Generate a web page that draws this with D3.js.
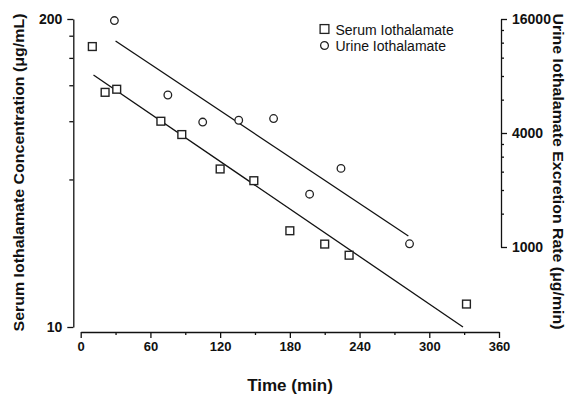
<!DOCTYPE html>
<html>
<head>
<meta charset="utf-8">
<script src="https://cdn.jsdelivr.net/npm/d3@7"></script>
<style>
    body { margin: 0; background: #fff; }
    text { font-family: "Liberation Sans", Arial, sans-serif; fill: #111; }
</style>
</head>
<body>
<div id="chart"></div>
<script>
// serum samples (left axis, ug/mL)
const serumTime = [10, 21, 31, 69, 87, 120, 149, 180, 210, 231, 332];
const serumConc = [153, 98, 101, 74, 65, 46.5, 41.5, 25.5, 22.4, 20.1, 12.5];

// urine collections (right axis, ug/min)
const urineTime = [29, 75, 105, 136, 166, 197, 224, 283];
const urineRate = [15700, 6350, 4570, 4670, 4770, 1900, 2600, 1040];

// regression lines, end points
const serumFitTime = [11, 329];
const serumFitConc = [116, 10];
const urineFitTime = [30, 282];
const urineFitRate = [12240, 1142];

// ticks
const xMajor = [0, 60, 120, 180, 240, 300, 360];
const xMinor = [30, 90, 150, 210, 270, 330];
const leftMajor = [10, 200];
const leftMinor = [42, 74, 105, 137, 170];
const rightMajor = [1000, 4000, 16000];
const rightMinor = [1500, 2000, 2500, 3000, 3500, 6000, 8000, 10000, 12000, 14000];

const width = 567, height = 394;

const svg = d3.select("#chart")
    .append("svg")
    .attr("width", width)
    .attr("height", height);

// scales
const x = d3.scaleLinear().domain([0, 360]).range([80.7, 499]);
const yL = d3.scaleLog().domain([10, 200]).range([327, 19]);
const yR = d3.scaleLog().domain([1000, 16000]).range([247, 19]);

// x axis (drawn slightly below the left axis end)
svg.append("g")
    .attr("transform", "translate(0,332)")
    .call(d3.axisBottom(x).tickValues(xMajor).tickSize(6).tickSizeOuter(0).tickPadding(4))
    .call(g => g.selectAll("text").attr("font-size", "13px").attr("font-weight", "bold"));
svg.append("g")
    .attr("transform", "translate(0,332)")
    .call(d3.axisBottom(x).tickValues(xMinor).tickSize(3).tickFormat(""))
    .call(g => g.select(".domain").remove());

// left axis
svg.append("g")
    .attr("transform", "translate(73.3,0)")
    .call(d3.axisLeft(yL).tickValues(leftMajor).tickSize(6).tickSizeOuter(0)
        .tickFormat(d3.format("d")).tickPadding(5))
    .call(g => g.selectAll("text").attr("font-size", "14px").attr("font-weight", "bold"));
svg.append("g")
    .attr("transform", "translate(73.3,0)")
    .call(d3.axisLeft(yL).tickValues(leftMinor).tickSize(4).tickFormat(""))
    .call(g => g.select(".domain").remove());

// right axis
svg.append("g")
    .attr("transform", "translate(501,0)")
    .call(d3.axisRight(yR).tickValues(rightMajor).tickSize(6).tickSizeOuter(0)
        .tickFormat(d3.format("d")).tickPadding(5))
    .call(g => g.selectAll("text").attr("font-size", "14px").attr("font-weight", "bold"));
svg.append("g")
    .attr("transform", "translate(501,0)")
    .call(d3.axisRight(yR).tickValues(rightMinor).tickSize(3).tickFormat(""))
    .call(g => g.select(".domain").remove());

svg.selectAll(".domain, .tick line")
    .attr("stroke", "#111")
    .attr("stroke-width", 1.3);

// regression lines
const serumLine = d3.line().x(d => x(d[0])).y(d => yL(d[1]));
const urineLine = d3.line().x(d => x(d[0])).y(d => yR(d[1]));

svg.append("path")
    .datum(d3.zip(serumFitTime, serumFitConc))
    .attr("d", serumLine)
    .attr("fill", "none")
    .attr("stroke", "#111")
    .attr("stroke-width", 1.3);

svg.append("path")
    .datum(d3.zip(urineFitTime, urineFitRate))
    .attr("d", urineLine)
    .attr("fill", "none")
    .attr("stroke", "#111")
    .attr("stroke-width", 1.3);

// serum squares
const sq = 7.8;
svg.selectAll("rect.serum")
    .data(d3.zip(serumTime, serumConc))
    .enter()
    .append("rect")
    .attr("class", "serum")
    .attr("x", d => x(d[0]) - sq / 2)
    .attr("y", d => yL(d[1]) - sq / 2)
    .attr("width", sq)
    .attr("height", sq)
    .attr("fill", "white")
    .attr("stroke", "#222")
    .attr("stroke-width", 1.4);

// urine circles
svg.selectAll("circle.urine")
    .data(d3.zip(urineTime, urineRate))
    .enter()
    .append("circle")
    .attr("class", "urine")
    .attr("cx", d => x(d[0]))
    .attr("cy", d => yR(d[1]))
    .attr("r", 3.8)
    .attr("fill", "white")
    .attr("stroke", "#222")
    .attr("stroke-width", 1.3);

// legend
const legend = svg.append("g").attr("transform", "translate(324.5,0)");
legend.append("rect")
    .attr("x", -sq / 2 - 0.5).attr("y", 29 - sq / 2 - 0.5)
    .attr("width", sq + 1).attr("height", sq + 1)
    .attr("fill", "white").attr("stroke", "#222").attr("stroke-width", 1.3);
legend.append("circle")
    .attr("cx", 0).attr("cy", 45.5).attr("r", 3.9)
    .attr("fill", "white").attr("stroke", "#222").attr("stroke-width", 1.3);
legend.append("text")
    .attr("x", 11).attr("y", 35)
    .attr("font-size", "14px")
    .text("Serum Iothalamate");
legend.append("text")
    .attr("x", 11).attr("y", 50.5)
    .attr("font-size", "14px")
    .text("Urine Iothalamate");

// axis titles
svg.append("text")
    .attr("transform", "translate(290,391)")
    .attr("text-anchor", "middle")
    .attr("font-size", "17px")
    .attr("font-weight", "bold")
    .text("Time (min)");

svg.append("text")
    .attr("transform", "translate(23.5,172.5) rotate(-90)")
    .attr("text-anchor", "middle")
    .attr("font-size", "15px")
    .attr("font-weight", "bold")
    .attr("textLength", 318)
    .attr("lengthAdjust", "spacingAndGlyphs")
    .text("Serum Iothalamate Concentration (\u03bcg/mL)");

svg.append("text")
    .attr("transform", "translate(553,171.5) rotate(90)")
    .attr("text-anchor", "middle")
    .attr("font-size", "15px")
    .attr("font-weight", "bold")
    .attr("textLength", 316)
    .attr("lengthAdjust", "spacingAndGlyphs")
    .text("Urine Iothalamate Excretion Rate (\u03bcg/min)");
</script>
</body>
</html>
